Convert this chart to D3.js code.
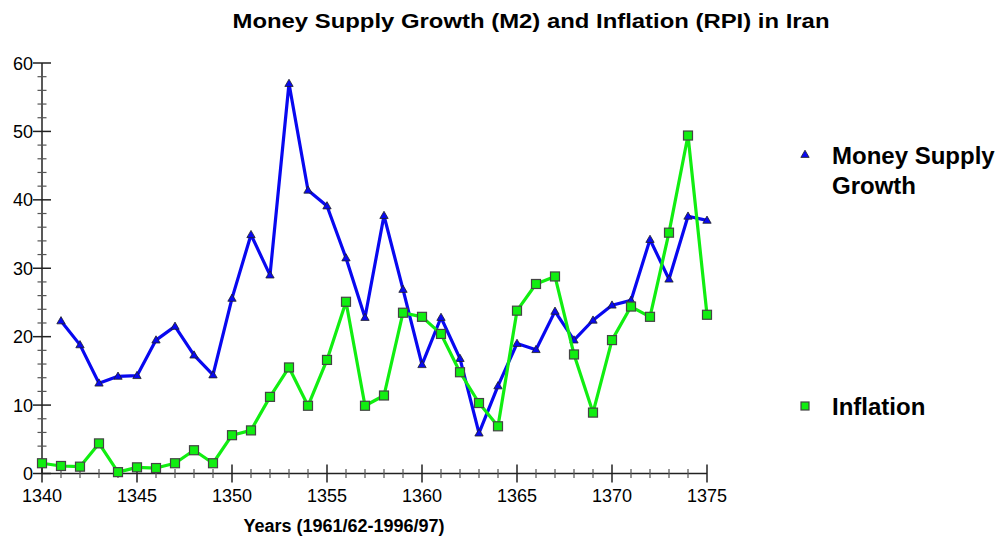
<!DOCTYPE html>
<html>
<head>
<meta charset="utf-8">
<script src="https://cdn.jsdelivr.net/npm/d3@7"></script>
<style>
  body { margin: 0; background: #fff; }
  text { font-family: "Liberation Sans", Arial, sans-serif; }
</style>
</head>
<body>
<div id="chart"></div>
<script>
var years = d3.range(1340, 1376);

// Money supply growth (M2), starts at 1341
var moneyYears = d3.range(1341, 1376);
var moneyValues = [22.3, 18.8, 13.2, 14.2, 14.3, 19.5, 21.5, 17.3, 14.4, 25.6,
    34.9, 29.0, 57.0, 41.4, 39.1, 31.5, 22.8, 37.7, 26.9, 15.9,
    22.8, 16.8, 5.9, 12.8, 19.0, 18.1, 23.7, 19.5, 22.4, 24.6,
    25.3, 34.2, 28.4, 37.6, 37.0];

// Inflation (RPI), 1340-1375
var inflationYears = d3.range(1340, 1376);
var inflationValues = [1.5, 1.1, 1.0, 4.4, 0.2, 0.9, 0.8, 1.5, 3.4, 1.5,
    5.6, 6.3, 11.2, 15.5, 9.9, 16.6, 25.1, 9.9, 11.4, 23.5,
    22.9, 20.4, 14.8, 10.3, 6.9, 23.8, 27.7, 28.8, 17.4, 8.9,
    19.5, 24.4, 22.9, 35.2, 49.4, 23.2];

var yTicks = [0, 10, 20, 30, 40, 50, 60];
var xTicks = [1340, 1345, 1350, 1355, 1360, 1365, 1370, 1375];

var W = 1006, H = 552;
var margin = {top: 63, left: 42, right: 299, bottom: 78};

var svg = d3.select("#chart")
    .append("svg")
    .attr("width", W)
    .attr("height", H);

var x = d3.scaleLinear()
    .domain([1340, 1375])
    .range([margin.left, W - margin.right]);

var y = d3.scaleLinear()
    .domain([0, 60])
    .range([H - margin.bottom - 0.5, margin.top]);

// title
svg.append("text")
    .attr("x", 531)
    .attr("y", 28)
    .attr("text-anchor", "middle")
    .style("font-size", "21px")
    .style("font-weight", "bold")
    .attr("textLength", 597)
    .attr("lengthAdjust", "spacingAndGlyphs")
    .text("Money Supply Growth (M2) and Inflation (RPI) in Iran");

// Y axis: line, minor ticks every 2, major every 10
var axisCol = "#222";
var gy = svg.append("g");
gy.append("line")
    .attr("x1", x(1340)).attr("x2", x(1340))
    .attr("y1", y(0)).attr("y2", y(60))
    .attr("stroke", axisCol).attr("stroke-width", 1.5);
gy.selectAll(".minor")
    .data(d3.range(0, 61, 2).filter(d => d % 10 != 0))
    .enter().append("line")
    .attr("x1", x(1340) - 4.5).attr("x2", x(1340) + 4.5)
    .attr("y1", d => y(d)).attr("y2", d => y(d))
    .attr("stroke", "#555").attr("stroke-width", 1.2);
gy.selectAll(".major")
    .data(yTicks)
    .enter().append("line")
    .attr("x1", x(1340) - 9).attr("x2", x(1340) + 9)
    .attr("y1", d => y(d)).attr("y2", d => y(d))
    .attr("stroke", axisCol).attr("stroke-width", 1.5);
gy.selectAll(".lab")
    .data(yTicks)
    .enter().append("text")
    .attr("x", x(1340) - 9)
    .attr("y", d => y(d) + 6.5)
    .attr("text-anchor", "end")
    .style("font-size", "18px")
    .text(d => d);

// X axis: minor every year, major every 5
var gx = svg.append("g");
gx.append("line")
    .attr("x1", x(1340)).attr("x2", x(1375))
    .attr("y1", y(0)).attr("y2", y(0))
    .attr("stroke", axisCol).attr("stroke-width", 1.5);
gx.selectAll(".minor")
    .data(years.filter(d => d % 5 != 0))
    .enter().append("line")
    .attr("x1", d => x(d)).attr("x2", d => x(d))
    .attr("y1", y(0) - 4.5).attr("y2", y(0) + 4.5)
    .attr("stroke", "#555").attr("stroke-width", 1.2);
gx.selectAll(".major")
    .data(xTicks)
    .enter().append("line")
    .attr("x1", d => x(d)).attr("x2", d => x(d))
    .attr("y1", y(0) - 9).attr("y2", y(0) + 9)
    .attr("stroke", axisCol).attr("stroke-width", 1.5);
gx.selectAll(".lab")
    .data(xTicks)
    .enter().append("text")
    .attr("x", d => x(d))
    .attr("y", y(0) + 28)
    .attr("text-anchor", "middle")
    .style("font-size", "18px")
    .text(d => d);

svg.append("text")
    .attr("x", 344)
    .attr("y", 532)
    .attr("text-anchor", "middle")
    .style("font-size", "18px")
    .style("font-weight", "bold")
    .text("Years (1961/62-1996/97)");

// series
var moneyData = moneyYears.map((d, i) => ({year: d, value: moneyValues[i]}));
var inflationData = inflationYears.map((d, i) => ({year: d, value: inflationValues[i]}));

var line = d3.line()
    .x(d => x(d.year))
    .y(d => y(d.value));

var blue = "#0808f0", green = "#11ee11";
var tri = d3.symbol().type(d3.symbolTriangle).size(30);

svg.append("path")
    .datum(moneyData)
    .attr("d", line)
    .attr("fill", "none")
    .attr("stroke", blue)
    .attr("stroke-width", 3.2)
    .attr("stroke-linejoin", "round");
svg.selectAll(".tri")
    .data(moneyData)
    .enter().append("path")
    .attr("d", tri)
    .attr("transform", d => "translate(" + x(d.year) + "," + (y(d.value) + 0.5) + ")")
    .attr("fill", blue)
    .attr("stroke", "#222")
    .attr("stroke-width", 0.8);

svg.append("path")
    .datum(inflationData)
    .attr("d", line)
    .attr("fill", "none")
    .attr("stroke", green)
    .attr("stroke-width", 3.2)
    .attr("stroke-linejoin", "round");
svg.selectAll(".sq")
    .data(inflationData)
    .enter().append("rect")
    .attr("x", d => x(d.year) - 4.5)
    .attr("y", d => y(d.value) - 4.5)
    .attr("width", 9)
    .attr("height", 9)
    .attr("fill", green)
    .attr("stroke", "#444")
    .attr("stroke-width", 1.2);

// legend
var legend = svg.append("g");
legend.append("path")
    .attr("d", tri)
    .attr("transform", "translate(805,155)")
    .attr("fill", blue)
    .attr("stroke", "#222")
    .attr("stroke-width", 0.8);
legend.append("text")
    .attr("x", 832).attr("y", 164)
    .style("font-size", "24px").style("font-weight", "bold")
    .text("Money Supply");
legend.append("text")
    .attr("x", 832).attr("y", 194)
    .style("font-size", "24px").style("font-weight", "bold")
    .text("Growth");
legend.append("rect")
    .attr("x", 801).attr("y", 402)
    .attr("width", 8).attr("height", 8)
    .attr("fill", green)
    .attr("stroke", "#444")
    .attr("stroke-width", 1.2);
legend.append("text")
    .attr("x", 832).attr("y", 415)
    .style("font-size", "24px").style("font-weight", "bold")
    .text("Inflation");
</script>
</body>
</html>
